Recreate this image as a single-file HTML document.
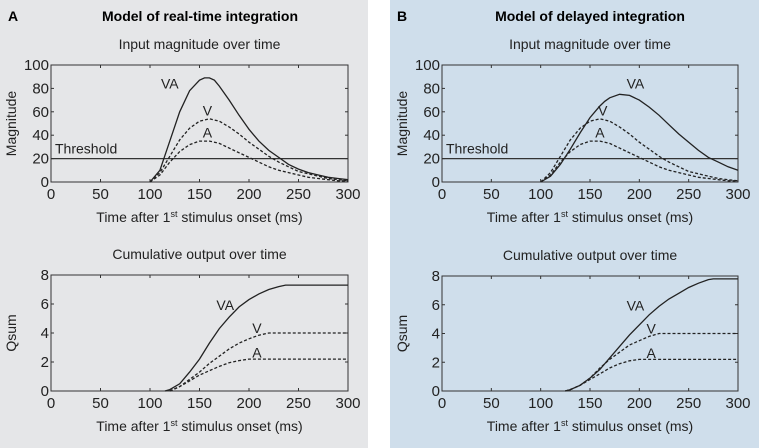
<!DOCTYPE html>
<html><head><meta charset="utf-8"><style>
body{margin:0;width:759px;height:448px;overflow:hidden;background:#fff}
svg{display:block;font-family:"Liberation Sans",Arial,sans-serif}
</style></head><body>
<svg id="fig" width="759" height="448">
<rect x="0" y="0" width="368" height="448" fill="#e5e6e8"/>
<rect x="390" y="0" width="369" height="448" fill="#cfdeeb"/>
<text x="8" y="21" font-size="14" font-weight="bold">A</text>
<text x="200" y="21" font-size="14" font-weight="bold" text-anchor="middle">Model of real-time integration</text>
<text x="397" y="21" font-size="14" font-weight="bold">B</text>
<text x="590" y="21" font-size="14" font-weight="bold" text-anchor="middle">Model of delayed integration</text>
</svg>
<script>
const tX=[100,110,120,130,140,150,155,160,165,170,180,190,200,210,220,230,240,250,260,270,280,290,300];
const aTopVA=[0,10,35,60,78,87,89,89,87,82,70,57,45,35,27,21,15,11,8,6,4,3,2];
const aTopV=[0,8,22,36,46,52,53,54,53,52,47,41,34,28,22,17,13,9,7,5,3,2,1];
const aTopA=[0,6,17,26,32,35,35,35,34,33,29,25,21,17,13,10,8,6,4,3,2,1,1];
const bTopVA=[0,5,15,28,42,55,60,65,69,72,75,74,70,64,57,49,41,34,27,21,17,13,10];
const bTopV=aTopV.slice();
const bTopA=aTopA.slice();
const thresholdValue=20;
const cXa=[115,120,130,140,150,160,170,180,190,200,210,220,230,237,250,300];
const aBotVA=[0,0.1,0.5,1.3,2.2,3.3,4.3,5.1,5.8,6.3,6.7,7.0,7.2,7.3,7.3,7.3];
const cXa2=[120,130,140,150,160,170,180,190,200,210,220,250,300];
const aBotV=[0,0.3,0.8,1.3,1.9,2.4,2.9,3.3,3.6,3.85,4.0,4.0,4.0];
const aBotA=[0,0.3,0.7,1.1,1.4,1.7,1.95,2.1,2.2,2.2,2.2,2.2,2.2];
const cXb=[125,130,140,150,160,170,180,190,200,210,220,230,240,250,260,270,275,300];
const bBotVA=[0,0.1,0.4,0.9,1.5,2.3,3.1,3.9,4.6,5.3,5.9,6.4,6.8,7.2,7.5,7.75,7.8,7.8];
const bBotV=[0,0.1,0.4,0.9,1.6,2.2,2.7,3.2,3.5,3.8,4.0,4.0,4.0,4.0,4.0,4.0,4.0,4.0];
const bBotA=[0,0.1,0.4,0.8,1.2,1.6,1.9,2.1,2.2,2.2,2.2,2.2,2.2,2.2,2.2,2.2,2.2,2.2];
const xTicks=[0,50,100,150,200,250,300];
const topYTicks=[0,20,40,60,80,100];
const botYTicks=[0,2,4,6,8];

const NS='http://www.w3.org/2000/svg';
const svg=document.getElementById('fig');
function el(tag,attrs,parent){const e=document.createElementNS(NS,tag);for(const k in attrs)e.setAttribute(k,attrs[k]);(parent||svg).appendChild(e);return e;}
function txt(s,attrs,name){const e=el('text',attrs);e.textContent=s;


return e;}

function plot(p){
  const sx=v=>p.l+v/300*(p.r-p.l);
  const sy=v=>p.b-v/p.ymax*(p.b-p.t);
  const g=el('g',{});
  
  
  txt(p.sub,{x:(p.l+p.r)/2,y:p.t-16,'font-size':14,'text-anchor':'middle',fill:'#222'},p.name+'-subtitle');
  const fr=el('rect',{x:p.l,y:p.t,width:p.r-p.l,height:p.b-p.t,fill:'none',stroke:'#333','stroke-width':1},g);
  
  
  xTicks.forEach(v=>{
    el('line',{x1:sx(v),x2:sx(v),y1:p.b,y2:p.b-3,stroke:'#333'},g);
    el('line',{x1:sx(v),x2:sx(v),y1:p.t,y2:p.t+3,stroke:'#333'},g);
    txt(String(v),{x:sx(v),y:p.b+17,'font-size':15,'text-anchor':'middle',fill:'#222'},p.name+'-x-tick-label');
  });
  p.yt.forEach(v=>{
    el('line',{x1:p.l,x2:p.l+3,y1:sy(v),y2:sy(v),stroke:'#333'},g);
    el('line',{x1:p.r,x2:p.r-3,y1:sy(v),y2:sy(v),stroke:'#333'},g);
    txt(String(v),{x:p.l-2,y:sy(v)+5,'font-size':15,'text-anchor':'end',fill:'#222'},p.name+'-y-tick-label');
  });
  const xl=txt('',{x:(p.l+p.r)/2,y:p.b+40,'font-size':14,'text-anchor':'middle',fill:'#222'},p.name+'-x-axis-title');
  xl.innerHTML='Time after 1<tspan font-size="9" dy="-5">st</tspan><tspan dy="5"> stimulus onset (ms)</tspan>';
  txt(p.ylab,{x:0,y:0,'font-size':14,'text-anchor':'middle',fill:'#222',transform:`translate(${p.l-35},${(p.t+p.b)/2}) rotate(-90)`},p.name+'-y-axis-title');
  if(p.thr){
    const t=el('line',{x1:p.l,x2:p.r,y1:sy(thresholdValue),y2:sy(thresholdValue),stroke:'#333','stroke-width':1.2},g);
    
    
    txt('Threshold',{x:p.l+4,y:sy(thresholdValue)-5,'font-size':14,fill:'#222'},'threshold-label');
  }
  p.series.forEach(s=>{
    const pts=[];
    for(let i=0;i<s.x.length;i++)pts.push(sx(s.x[i]).toFixed(1)+','+sy(s.v[i]).toFixed(1));
    const pl=el('polyline',{points:pts.join(' '),fill:'none',stroke:'#222','stroke-width':1.3,'stroke-dasharray':s.dash?'3,2':'none'},g);
    
    
    txt(s.n,{x:sx(s.lx),y:sy(s.ly),'font-size':14,'text-anchor':'middle',fill:'#222'},p.name+'-label-'+s.n.toLowerCase());
  });
}
plot({name:'a-input',l:51,r:348,t:65,b:182,ymax:100,yt:topYTicks,thr:true,sub:'Input magnitude over time',ylab:'Magnitude',
 series:[{n:'VA',x:tX,v:aTopVA,lx:120,ly:80},{n:'V',x:tX,v:aTopV,lx:158,ly:57,dash:1},{n:'A',x:tX,v:aTopA,lx:158,ly:38,dash:1}]});
plot({name:'b-input',l:442,r:738,t:65,b:182,ymax:100,yt:topYTicks,thr:true,sub:'Input magnitude over time',ylab:'Magnitude',
 series:[{n:'VA',x:tX,v:bTopVA,lx:196,ly:80},{n:'V',x:tX,v:bTopV,lx:163,ly:57,dash:1},{n:'A',x:tX,v:bTopA,lx:160,ly:38,dash:1}]});
plot({name:'a-output',l:51,r:348,t:275,b:391,ymax:8,yt:botYTicks,thr:false,sub:'Cumulative output over time',ylab:'Qsum',
 series:[{n:'VA',x:cXa,v:aBotVA,lx:176,ly:5.6},{n:'V',x:cXa2,v:aBotV,lx:208,ly:4.0,dash:1},{n:'A',x:cXa2,v:aBotA,lx:208,ly:2.3,dash:1}]});
plot({name:'b-output',l:442,r:738,t:276,b:391,ymax:8,yt:botYTicks,thr:false,sub:'Cumulative output over time',ylab:'Qsum',
 series:[{n:'VA',x:cXb,v:bBotVA,lx:196,ly:5.6},{n:'V',x:cXb,v:bBotV,lx:212,ly:4.0,dash:1},{n:'A',x:cXb,v:bBotA,lx:212,ly:2.3,dash:1}]});
</script>
</body></html>
